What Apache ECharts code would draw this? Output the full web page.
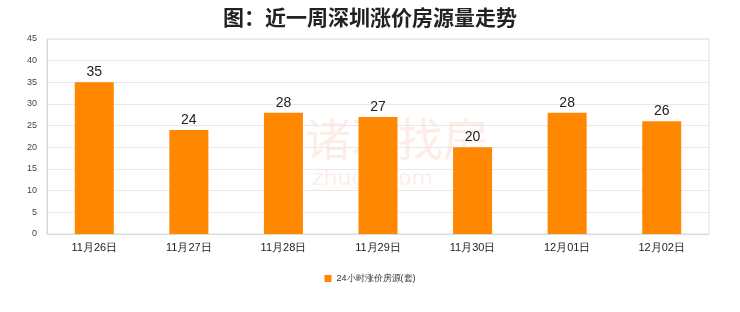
<!DOCTYPE html>
<html>
<head>
<meta charset="utf-8">
<script src="https://cdn.jsdelivr.net/npm/echarts@6/dist/echarts.min.js"></script>
<style>
  html, body { margin: 0; padding: 0; background: #fff; }
  #chart { width: 740px; height: 312px; }
</style>
</head>
<body>
<div id="chart"></div>
<script>
// 数据
var categories = ['11月26日', '11月27日', '11月28日', '11月29日', '11月30日', '12月01日', '12月02日'];
var values = [35, 24, 28, 27, 20, 28, 26];
var seriesName = '24小时涨价房源(套)';

var chart = echarts.init(document.getElementById('chart'));

var option = {
  title: {
    text: '图：近一周深圳涨价房源量走势',
    left: 'center',
    top: 2,
    textStyle: { fontSize: 21, fontWeight: 'bold', color: '#222', fontFamily: 'Noto Sans CJK SC' }
  },
  // 水印
  graphic: [{
    type: 'text',
    left: 305,
    top: 116,
    style: { text: '诸葛找房', fontSize: 46, fill: 'rgba(240,160,120,0.18)', fontFamily: 'Noto Sans CJK SC' }
  }, {
    type: 'text',
    left: 312,
    top: 168,
    style: { text: 'zhuge.com', fontSize: 22, fill: 'rgba(240,160,120,0.18)', fontFamily: 'DejaVu Sans' }
  }],
  legend: {
    bottom: 24,
    left: 'center',
    itemWidth: 7,
    itemHeight: 7,
    icon: 'rect',
    textStyle: { fontSize: 9, color: '#333' }
  },
  grid: {
    left: 47, right: 31, top: 39, bottom: 78,
    show: true, borderColor: '#e0e0e0', borderWidth: 1
  },
  xAxis: {
    type: 'category',
    data: categories,
    axisLine: { lineStyle: { color: '#d8d8d8' } },
    axisTick: { show: false },
    axisLabel: { fontSize: 11, color: '#222', margin: 8 }
  },
  yAxis: {
    type: 'value',
    min: 0, max: 45, interval: 5,
    axisLine: { show: true, lineStyle: { color: '#d8d8d8' } },
    axisTick: { show: false },
    axisLabel: { fontSize: 9, color: '#444', margin: 10 },
    splitLine: { lineStyle: { color: '#e8e8e8' } }
  },
  series: [{
    name: seriesName,
    type: 'bar',
    data: values,
    barWidth: 39,
    itemStyle: { color: '#ff8800' },
    label: { show: true, position: 'top', fontSize: 14, color: '#222', distance: 3 }
  }]
};

chart.setOption(option);
</script>
</body>
</html>
